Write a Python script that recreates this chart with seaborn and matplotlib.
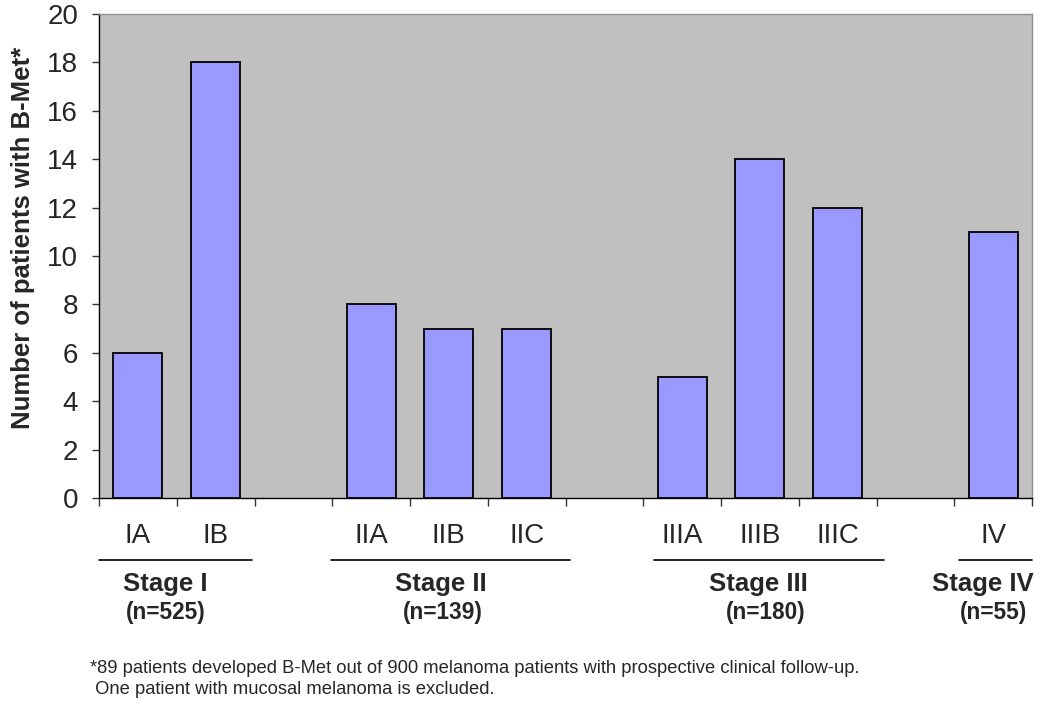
import pandas as pd
import matplotlib
matplotlib.use("Agg")
import matplotlib.pyplot as plt
import matplotlib.transforms as mtransforms
import seaborn as sns

# Data
substages = ["IA", "IB", "IIA", "IIB", "IIC", "IIIA", "IIIB", "IIIC", "IV"]
counts = [6, 18, 8, 7, 7, 5, 14, 12, 11]
slot_order = ["IA", "IB", "gap1", "IIA", "IIB", "IIC", "gap2",
              "IIIA", "IIIB", "IIIC", "gap3", "IV"]
stage_names = ["Stage I", "Stage II", "Stage III", "Stage IV"]
stage_n = ["(n=525)", "(n=139)", "(n=180)", "(n=55)"]
footnote = ("*89 patients developed B-Met out of 900 melanoma patients with prospective clinical follow-up.\n"
            " One patient with mucosal melanoma is excluded.")

df = pd.DataFrame({"stage": substages, "count": counts})

sns.set_style("white")
plt.rcParams["font.family"] = ["Liberation Sans", "DejaVu Sans"]

fig = plt.figure(figsize=(10.5, 7.1), dpi=100)
ax = fig.add_axes([99 / 1050, 1 - 498 / 710, 933 / 1050, 484 / 710])
ax.set_facecolor("#C0C0C0")

sns.barplot(data=df, x="stage", y="count", order=slot_order, color="#9999FF",
            saturation=1, width=0.63, edgecolor="black", linewidth=1.3, ax=ax)

ax.set_xlim(-0.5, len(slot_order) - 0.5)
ax.set_ylim(0, 20)
ax.set_yticks(range(0, 21, 2))
ax.tick_params(axis="y", direction="out", length=5, width=1, color="#333333",
               labelsize=20, pad=10, left=True)

# x labels at slot centres, tick marks at slot boundaries
labels = [s if not s.startswith("gap") else "" for s in slot_order]
ax.set_xticks(range(len(slot_order)))
ax.set_xticklabels(labels, fontsize=20)
ax.tick_params(axis="x", length=0, pad=18)
ax.set_xticks([i - 0.5 for i in range(len(slot_order) + 1)], minor=True)
ax.tick_params(axis="x", which="minor", direction="out", length=6, width=1,
               color="#333333", bottom=True)
ax.set_xlabel("")

ax.set_ylabel("Number of patients with B-Met*", fontsize=18.5, fontweight="bold")
ax.yaxis.set_label_coords(-0.0686, 0.537)

for side in ["left", "bottom"]:
    ax.spines[side].set_color("black")
    ax.spines[side].set_linewidth(1)
for side in ["top", "right"]:
    ax.spines[side].set_color("#909090")
    ax.spines[side].set_linewidth(1)

# stage group lines and labels below the axis
trans = mtransforms.blended_transform_factory(ax.transData, ax.transAxes)
group_spans = [(-0.5, 1.47), (2.48, 5.56), (6.64, 9.60), (10.56, 11.5)]
name_x = [0.35, 3.90, 7.98, 10.87]
n_x = [0.36, 3.92, 8.07, 11.01]
for (x0, x1), name, n, nx, cx in zip(group_spans, stage_names, stage_n, name_x, n_x):
    ax.plot([x0, x1], [-0.128, -0.128], color="black", lw=1.2,
            transform=trans, clip_on=False)
    ax.text(nx, -0.178, name, transform=trans, ha="center", va="center",
            fontsize=18.5, fontweight="bold")
    ax.text(cx, -0.236, n, transform=trans, ha="center", va="center",
            fontsize=16.3, fontweight="bold")

fig.text(90 / 1050, 1 - 679 / 710, footnote, ha="left", va="center",
         fontsize=13.2, linespacing=1.3)

fig.savefig("out.png", dpi=100)
